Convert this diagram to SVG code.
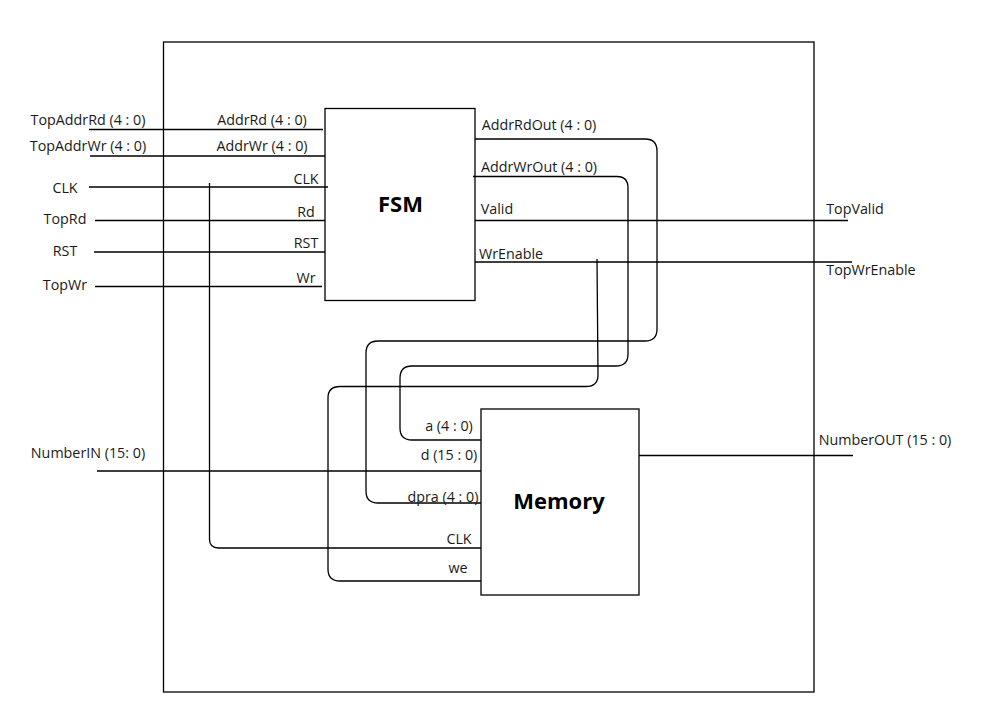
<svg xmlns="http://www.w3.org/2000/svg" width="989" height="717" viewBox="0 0 989 717">
<style>
.w{fill:#fff;stroke:#000;stroke-width:1.3}
.c{fill:none;stroke:#000;stroke-width:1.3}
text{font-family:"Open Sans","Noto Sans",sans-serif;font-size:14.3px;fill:#1a1a1a;text-anchor:middle}
.b{font-size:22px;font-weight:700;fill:#000}
</style>
<rect width="989" height="717" fill="#fff"/>
<rect id="boundary" class="w" x="163.500" y="42" width="650.500" height="650"/>
<g id="fsm"><rect class="w" x="325" y="108.500" width="150" height="192"/><text class="b" x="400.500" y="212">FSM</text></g>
<g id="memory"><rect class="w" x="481" y="409" width="158" height="186"/><text class="b" x="559" y="509">Memory</text></g>
<g id="connectors">
<path class="c" d="M89 129.500H323M90 156H325M89 187H328M95 220.500H325M94 252H325M95 286.500H322"/>
<path class="c" d="M209.500 183V539Q209.500 548 218.500 548H481"/>
<path class="c" d="M475 139H645Q657 139 657 151V329Q657 341 645 341H378Q366 341 366 353V491Q366 503 378 503H481"/>
<path class="c" d="M473 176.500H617Q628 176.500 628 188V354Q628 366 616 366H412Q400 366 400 378V428Q400 440 412 440H481"/>
<path class="c" d="M597 259L598 375Q598 386.500 586 386.500H340Q328 386.500 328 398V569Q328 581 340 581H481"/>
<path class="c" d="M475 220.500H848M475 262H852M97 471H481M639 455.500H853"/>
</g>
<g id="labels">
<text x="88" y="125">TopAddrRd (4 : 0)</text>
<text x="88" y="151">TopAddrWr (4 : 0)</text>
<text x="65" y="193">CLK</text>
<text x="65" y="224">TopRd</text>
<text x="65" y="256">RST</text>
<text x="65" y="290">TopWr</text>
<text x="262" y="125">AddrRd (4 : 0)</text>
<text x="262" y="151">AddrWr (4 : 0)</text>
<text x="306" y="184">CLK</text>
<text x="306" y="217">Rd</text>
<text x="306" y="248">RST</text>
<text x="306" y="283">Wr</text>
<text x="539" y="130">AddrRdOut (4 : 0)</text>
<text x="539" y="172">AddrWrOut (4 : 0)</text>
<text x="497" y="214">Valid</text>
<text x="511" y="259">WrEnable</text>
<text x="855" y="214">TopValid</text>
<text x="871" y="275">TopWrEnable</text>
<text x="885" y="445">NumberOUT (15 : 0)</text>
<text x="88" y="458">NumberIN (15: 0)</text>
<text x="449" y="431">a (4 : 0)</text>
<text x="449" y="460">d (15 : 0)</text>
<text x="443" y="502">dpra (4 : 0)</text>
<text x="459" y="544">CLK</text>
<text x="458" y="573">we</text>
</g>
</svg>
